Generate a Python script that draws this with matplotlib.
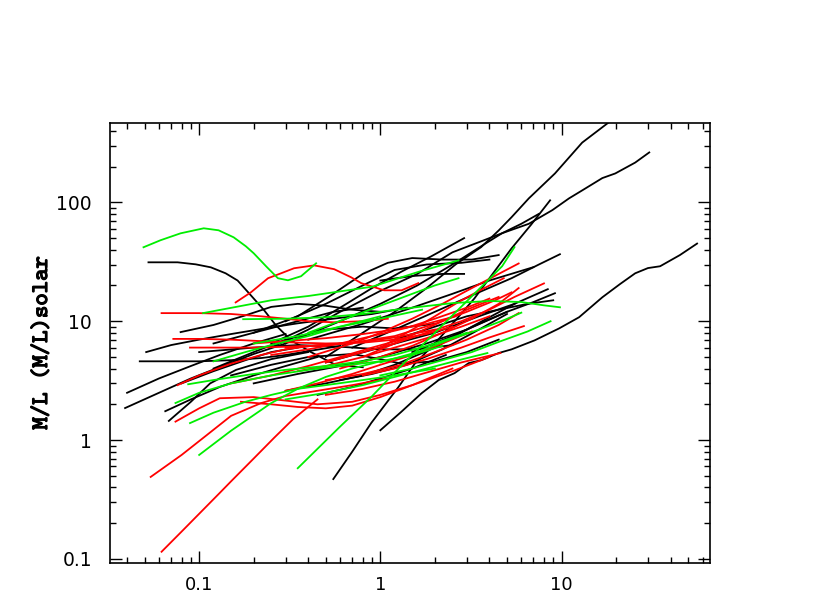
import numpy as np
import matplotlib
matplotlib.use('Agg')
import matplotlib.pyplot as plt
import matplotlib.patheffects as pe
from matplotlib.ticker import LogLocator, NullFormatter

# ==============================
# 1. DATA
# ==============================
black_x = [
    [0.0525, 0.0652, 0.076, 0.0957, 0.116, 0.14, 0.163, 0.193, 0.228, 0.265, 0.321, 0.415, 0.57, 0.8],
    [0.55, 0.7, 0.89, 1.26, 1.55, 2.0, 2.6, 3.3, 4.0, 5.3, 6.8, 8.65],
    [1.0, 1.3, 1.69, 2.1, 2.57, 3.07, 3.6, 4.5, 5.3, 7.1, 9.7, 12.5, 16.8, 21, 25.5, 30, 35, 45, 56],
    [0.25, 0.4, 0.6, 1.0, 1.6, 2.5, 3.6, 4.7, 6.6, 8.9, 11, 13, 16.8, 19.8, 25.5, 30.5],
    [0.5, 0.8, 1.2, 1.8, 2.6, 3.6, 4.5, 5.3, 6.6, 9.2, 13, 18.2],
    [0.3, 0.6, 1.0, 1.6, 2.5, 3.8, 4.7, 6.0, 7.5],
    [0.7, 1.2, 2.0, 3.5, 5.3, 7.5, 9.8],
    [0.4, 0.8, 1.5, 2.5, 4.0, 7.0],
    [0.5, 1.0, 2.0, 3.5, 5.5, 8.4],
    [1.5, 2.5, 3.5, 5.0, 7.0, 9.2],
    [0.25, 0.4, 0.6, 0.9, 1.3, 1.9, 2.9],
    [0.2, 0.35, 0.55, 0.8, 1.1, 1.5, 2.2, 3.2, 4.5],
    [0.3, 0.5, 0.8, 1.2, 1.8, 2.8, 4.0],
    [0.051, 0.07, 0.1, 0.15, 0.22, 0.35, 0.55, 0.9, 1.4],
    [0.079, 0.12, 0.18, 0.25, 0.35, 0.5, 0.7, 1.0],
    [0.047, 0.07, 0.1, 0.15, 0.22, 0.3, 0.4, 0.6],
    [0.04, 0.06, 0.09, 0.13, 0.2, 0.3],
    [0.039, 0.06, 0.09, 0.14, 0.2, 0.3],
    [0.065, 0.09, 0.13, 0.2, 0.3, 0.45],
    [0.068, 0.09, 0.115, 0.16, 0.25, 0.4],
    [0.1, 0.2, 0.35, 0.6, 1.0, 1.6, 2.5],
    [0.15, 0.25, 0.4, 0.7, 1.0, 1.3, 2.0, 3.0, 4.5],
    [0.12, 0.2, 0.3, 0.5, 0.8, 1.2, 2.0],
    [0.2, 0.35, 0.6, 1.0, 1.8, 3.0, 5.0],
    [0.3, 0.5, 0.8, 1.2, 2.0, 3.2, 5.5],
    [0.6, 0.9, 1.4, 2.2, 3.5, 5.0],
    [0.12, 0.2, 0.35, 0.55, 0.8],
    [1.2, 2.0, 3.0, 4.5, 6.5, 9.0],
    [0.45, 0.7, 1.0, 1.5, 2.3],
    [0.08, 0.12, 0.18, 0.25, 0.35],
    [1.0, 1.5, 2.2, 2.9],
]
black_y = [
    [31.3, 31.3, 31.3, 30.1, 28.4, 25.3, 22, 16.5, 12.4, 9.25, 6.92, 5.49, 4.27, 4.1],
    [0.47, 0.8, 1.39, 2.8, 4.4, 6.5, 10.2, 15.5, 23, 41, 65, 104],
    [1.21, 1.72, 2.48, 3.2, 3.66, 4.44, 4.7, 5.4, 5.8, 6.9, 8.7, 10.8, 15.9, 20.5, 25.3, 28, 29, 36, 45],
    [6, 8.5, 12, 18, 25, 38, 47, 55, 66, 86, 108, 126, 160, 175, 216, 263],
    [5, 8, 12, 19, 30, 42, 58, 75, 108, 175, 318, 470],
    [6.5, 10, 14, 20, 30, 45, 55, 66, 80],
    [6, 8.5, 12, 17.5, 23, 30, 36.6],
    [7, 9.5, 13, 17, 22, 28.5],
    [4.5, 6, 8, 11, 14, 18.6],
    [5.5, 7.5, 9.5, 12, 14.5, 17.2],
    [6.5, 9, 13, 19, 26, 35, 50],
    [8, 11, 17, 25, 31, 34, 33, 33, 36],
    [10, 14, 20, 27, 30, 31, 33],
    [5.5, 6.3, 7.0, 7.8, 8.6, 9.6, 10.5, 11.5, 13],
    [8.1, 9.3, 11.2, 13.2, 14, 13.5, 12.5, 12],
    [4.6, 4.6, 4.6, 4.7, 4.9, 5.2, 5.6, 6.2],
    [2.5, 3.3, 4.2, 5.2, 6.5, 7.8],
    [1.86, 2.5, 3.3, 4.3, 5.3, 6.5],
    [1.75, 2.2, 2.8, 3.5, 4.2, 5.0],
    [1.45, 2.1, 3.0, 3.9, 4.8, 5.5],
    [5.5, 6.0, 6.3, 6.1, 5.8, 5.8, 6.3],
    [3.5, 4.3, 5.0, 5.3, 4.8, 4.4, 4.6, 5.5, 7],
    [4.0, 5.5, 7.0, 8.5, 9.0, 8.7, 9.5],
    [3.0, 3.6, 4.2, 5.0, 6.5, 8.5, 12],
    [2.6, 3.0, 3.5, 4.3, 6, 9, 14],
    [3.2, 3.6, 4.3, 5.8, 8.5, 11.5],
    [6.5, 8, 10, 12, 13],
    [7, 9, 11, 12.5, 14, 15],
    [2.4, 2.8, 3.3, 4.0, 5.2],
    [3.0, 3.8, 4.7, 5.5, 6.0],
    [22, 24, 25, 25],
]

red_x = [
    [0.062, 0.1, 0.15, 0.22, 0.3, 0.4, 0.55, 0.8, 1.1],
    [0.159, 0.193, 0.24, 0.283, 0.334, 0.431, 0.556, 0.69, 0.785, 1.05, 1.31, 1.62],
    [0.072, 0.1, 0.15, 0.22, 0.35, 0.5, 0.8, 1.2, 1.8, 2.5],
    [0.089, 0.13, 0.2, 0.3, 0.5, 0.8, 1.2, 2.0],
    [0.076, 0.1, 0.15, 0.22, 0.3, 0.45, 0.7],
    [0.074, 0.1, 0.13, 0.2, 0.3, 0.45, 0.7, 1.0, 1.5, 2.5, 4.0],
    [0.17, 0.25, 0.35, 0.5, 0.7, 1.0, 1.5, 2.5],
    [0.054, 0.08, 0.11, 0.15, 0.22, 0.3, 0.45, 0.7, 1.1],
    [0.062, 0.08, 0.1, 0.13, 0.15, 0.2, 0.26, 0.33, 0.45],
    [0.4, 0.7, 1.0, 1.5, 2.2, 3.2, 4.5, 5.8],
    [0.5, 0.8, 1.2, 1.8, 2.8, 4.0, 5.5, 8.0],
    [0.6, 1.0, 1.5, 2.2, 3.2, 4.5, 5.8],
    [0.3, 0.5, 0.8, 1.2, 2.0, 3.0, 4.3, 5.3],
    [0.5, 0.8, 1.3, 2.0, 3.0, 4.5, 5.8],
    [0.8, 1.2, 1.8, 2.8, 4.0, 6.2],
    [0.5, 0.8, 1.2, 1.8, 2.8, 4.6],
    [0.25, 0.4, 0.6, 0.9, 1.4, 2.0, 3.0, 4.0],
    [0.35, 0.5, 0.8, 1.2, 1.8, 2.8, 4.0],
    [0.8, 1.2, 1.6, 2.2, 3.0, 4.5],
    [1.0, 1.5, 2.0, 2.7, 3.5, 4.8],
    [0.2, 0.3, 0.5, 0.8, 1.2, 1.8, 2.6],
    [0.15, 0.25, 0.4, 0.6, 0.9, 1.3],
    [0.3, 0.45, 0.7, 1.0, 1.5, 2.2, 3.2],
]
red_y = [
    [11.7, 11.7, 11.5, 11.0, 10.5, 10.0, 9.8, 10, 10.5],
    [14.4, 17.5, 23, 25.3, 27.9, 29.5, 27.4, 23.4, 20.9, 18.2, 18.2, 20.9],
    [7.1, 7.1, 7.0, 6.8, 6.6, 6.5, 6.6, 7.0, 7.8, 9],
    [6.0, 6.0, 6.0, 6.1, 6.3, 6.7, 7.3, 8.5],
    [2.9, 3.5, 4.4, 5.2, 5.8, 6.3, 6.5],
    [1.43, 1.85, 2.25, 2.3, 2.15, 2.0, 2.1, 2.4, 2.9, 3.8, 5],
    [2.1, 2.0, 1.9, 1.85, 1.95, 2.3, 2.9, 4.0],
    [0.49, 0.75, 1.1, 1.6, 2.05, 2.35, 2.6, 2.9, 3.3],
    [0.115, 0.17, 0.24, 0.36, 0.45, 0.7, 1.05, 1.5, 2.2],
    [5, 6.5, 8, 10.5, 14, 19, 25, 30.6],
    [4.5, 5.5, 6.5, 8, 10, 12.5, 16, 20.8],
    [4, 5, 6.2, 8, 10.5, 14, 19],
    [6, 6.3, 6.8, 7.5, 9.5, 12, 15, 17.5],
    [3.2, 3.6, 4.3, 5.5, 7, 9.3, 11.7],
    [3.5, 4, 4.8, 6, 7.3, 9.1],
    [2.4, 2.7, 3.1, 3.7, 4.5, 5.4],
    [5.2, 5.8, 6.5, 7.5, 8.8, 10.5, 13, 15.5],
    [3.8, 4.2, 5, 6, 7.2, 9, 11],
    [5, 6.5, 8, 10, 12.5, 16],
    [6, 8.5, 11, 14.5, 18, 23],
    [6.5, 6.8, 7.2, 7.8, 8.5, 9.5, 11],
    [3.0, 3.5, 4.2, 5.0, 6.0, 7.0],
    [2.6, 3.0, 3.6, 4.3, 5.2, 6.5, 8.2],
]

green_x = [
    [0.0493, 0.0612, 0.079, 0.106, 0.128, 0.155, 0.181, 0.2, 0.234, 0.272, 0.309, 0.365, 0.442],
    [0.105, 0.25, 0.4, 0.9, 1.62, 2.7],
    [0.35, 0.6, 0.89, 1.3, 1.9, 2.9, 3.8, 4.7, 5.5],
    [0.175, 0.3, 0.5, 0.8, 1.5, 2.5, 4.0, 6.0, 8.0, 9.8],
    [0.074, 0.1, 0.15, 0.25, 0.4, 0.6, 1.0, 1.5, 2.2],
    [0.087, 0.12, 0.2, 0.3, 0.5, 0.8, 1.2, 2.0, 3.0],
    [0.089, 0.12, 0.18, 0.25, 0.35, 0.5, 0.8, 1.2, 2.0],
    [0.1, 0.15, 0.25, 0.35, 0.5, 0.7, 1.0],
    [1.0, 1.5, 2.2, 3.2, 4.5, 6.5, 8.7],
    [0.3, 0.5, 0.8, 1.2, 1.8, 2.7, 3.9],
    [0.4, 0.7, 1.0, 1.5, 2.0, 2.7],
    [1.0, 1.6, 2.4, 3.5, 4.8, 6.0],
    [0.12, 0.18, 0.25, 0.4, 0.6, 1.0],
    [0.2, 0.35, 0.6, 1.0, 1.7],
]
green_y = [
    [41.9, 48, 54.9, 60.5, 58.2, 50.8, 42.7, 37.3, 29, 23, 22.1, 23.9, 30.7],
    [11.7, 15, 16.3, 19.5, 26, 32.5],
    [0.58, 1.3, 2.3, 4.2, 7.4, 14, 21, 29, 42],
    [10.4, 10.5, 10.8, 11.5, 13, 14.2, 14.8, 14.5, 13.6, 13.1],
    [2.05, 2.5, 3.0, 3.5, 3.9, 4.2, 4.6, 5.2, 6.2],
    [2.95, 3.2, 3.6, 3.9, 4.2, 4.6, 5.2, 6.5, 8],
    [1.39, 1.7, 2.1, 2.4, 2.7, 2.9, 3.2, 3.5, 4.0],
    [0.75, 1.2, 2.05, 2.7, 3.4, 4.0, 4.6],
    [3.5, 4.0, 4.7, 5.5, 6.7, 8.2, 10],
    [2.2, 2.5, 2.9, 3.4, 4.0, 4.7, 5.4],
    [8, 11, 13.5, 17, 20, 23],
    [4.5, 5.5, 7, 8.5, 10.2, 11.8],
    [4.6, 5.5, 6.3, 7.5, 9, 11],
    [6.5, 7.5, 9, 10.5, 12.5],
]

x_ticks = [0.1, 1, 10]
x_labels = ['0.1', '1', '10']
y_ticks = [0.1, 1, 10, 100]
y_labels = ['0.1', '1', '10', '100']

# ==============================
# 2. PLOT
# ==============================
fig = plt.figure(figsize=(8.3, 5.95), dpi=100)
ax = fig.add_axes([110 / 830, 1 - 563 / 595, 600 / 830, 440 / 595])

lw = 1.3
for xs, ys in zip(black_x, black_y):
    ax.plot(xs, ys, color='black', lw=lw)
for xs, ys in zip(red_x, red_y):
    ax.plot(xs, ys, color='#ff0000', lw=lw)
for xs, ys in zip(green_x, green_y):
    ax.plot(xs, ys, color='#00ee00', lw=lw)

ax.set_xscale('log')
ax.set_yscale('log')
ax.set_xlim(0.0322, 66)
ax.set_ylim(0.0925, 465)

ax.set_xticks(x_ticks)
ax.set_xticklabels(x_labels)
ax.set_yticks(y_ticks)
ax.set_yticklabels(y_labels)
ax.xaxis.set_minor_locator(LogLocator(base=10, subs=np.arange(2, 10)))
ax.yaxis.set_minor_locator(LogLocator(base=10, subs=np.arange(2, 10)))
ax.xaxis.set_minor_formatter(NullFormatter())
ax.yaxis.set_minor_formatter(NullFormatter())

ax.tick_params(which='both', direction='in', top=True, right=True, width=1.0)
ax.tick_params(which='major', length=8.5)
ax.tick_params(which='minor', length=4.5)
ax.tick_params(axis='x', which='major', pad=9, labelsize=13)
ax.tick_params(axis='y', which='major', pad=13, labelsize=13.5)
for sp in ax.spines.values():
    sp.set_linewidth(1.2)

ylab = ax.set_ylabel('M/L (M/L)solar', family='cmtt10', fontsize=17)
ylab.set_path_effects([pe.withStroke(linewidth=0.9, foreground='black')])
ax.yaxis.set_label_coords(-0.095, 0.5)

fig.savefig('out.png', dpi=100)
